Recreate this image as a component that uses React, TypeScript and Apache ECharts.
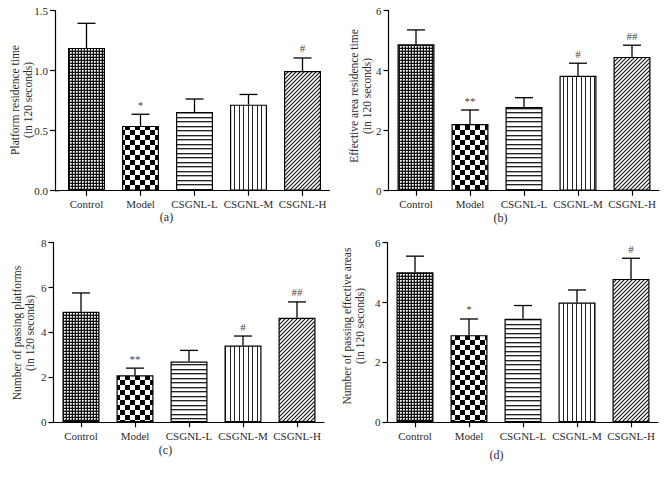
import React, { useEffect, useRef } from "react";
import * as echarts from "echarts";

const categories = ["Control", "Model", "CSGNL-L", "CSGNL-M", "CSGNL-H"];

const platformTimeMean = [1.19, 0.54, 0.656, 0.717, 0.998];
const platformTimeErr = [0.205, 0.097, 0.108, 0.085, 0.108];
const platformTimeMarks = ["", "*", "", "", "#"];

const areaTimeMean = [4.88, 2.22, 2.79, 3.83, 4.46];
const areaTimeErr = [0.48, 0.47, 0.31, 0.42, 0.39];
const areaTimeMarks = ["", "**", "", "#", "##"];

const platformCrossMean = [4.92, 2.09, 2.7, 3.42, 4.65];
const platformCrossErr = [0.84, 0.32, 0.5, 0.42, 0.71];
const platformCrossMarks = ["", "**", "", "#", "##"];

const areaCrossMean = [5.01, 2.91, 3.46, 4.0, 4.79];
const areaCrossErr = [0.54, 0.54, 0.44, 0.42, 0.69];
const areaCrossMarks = ["", "*", "", "", "#"];

const yTitles = [
  "Platform residence time\n(in 120 seconds)",
  "Effective area residence time\n(in 120 seconds)",
  "Number of passing platforms\n(in 120 seconds)",
  "Number of passing effective areas\n(in 120 seconds)",
];
const panelLetters = ["(a)", "(b)", "(c)", "(d)"];

const FONT = "'Liberation Serif', 'DejaVu Serif', serif";
const TEXT = "#2a2a2a";

function tile(w: number, h: number, draw: (ctx: CanvasRenderingContext2D) => void) {
  const c = document.createElement("canvas");
  c.width = w;
  c.height = h;
  const ctx = c.getContext("2d") as CanvasRenderingContext2D;
  ctx.fillStyle = "#fff";
  ctx.fillRect(0, 0, w, h);
  draw(ctx);
  return { image: c, repeat: "repeat", imageWidth: w, imageHeight: h } as any;
}

function makePatterns() {
  const control = tile(3, 3, (ctx) => {
    ctx.fillStyle = "#111";
    ctx.fillRect(0, 0, 3, 3);
    ctx.fillStyle = "#ffffff";
    ctx.fillRect(1, 1, 1, 1);
    ctx.fillStyle = "#cccccc";
    ctx.fillRect(2, 1, 1, 1);
    ctx.fillRect(1, 2, 1, 1);
    ctx.fillStyle = "#777";
    ctx.fillRect(2, 2, 1, 1);
  });
  const model = tile(10, 10, (ctx) => {
    ctx.fillStyle = "#000";
    ctx.fillRect(0, 0, 5, 5);
    ctx.fillRect(5, 5, 5, 5);
  });
  const low = tile(9, 9, (ctx) => {
    ctx.fillStyle = "#222";
    ctx.fillRect(0, 0, 9, 1);
    ctx.fillRect(0, 4, 9, 1);
    ctx.fillStyle = "#b0b0b0";
    ctx.fillRect(0, 1, 9, 1);
    ctx.fillRect(0, 5, 9, 1);
  });
  const mid = tile(9, 9, (ctx) => {
    ctx.fillStyle = "#222";
    ctx.fillRect(0, 0, 1, 9);
    ctx.fillRect(5, 0, 1, 9);
  });
  const high = tile(4, 4, (ctx) => {
    ctx.strokeStyle = "#111";
    ctx.lineWidth = 1.1;
    ctx.beginPath();
    ctx.moveTo(-1, 5);
    ctx.lineTo(5, -1);
    ctx.moveTo(-1, 1);
    ctx.lineTo(1, -1);
    ctx.moveTo(3, 5);
    ctx.lineTo(5, 3);
    ctx.stroke();
  });
  return [control, model, low, mid, high];
}

type Panel = {
  means: number[];
  errs: number[];
  marks: string[];
  max: number;
  interval: number;
  decimals: number;
  left: number;
  top: number;
  height: number;
  axisOffset: number;
  titleX: number;
  titleY: number;
  letterX: number;
  letterY: number;
};

const panels: Panel[] = [
  { means: platformTimeMean, errs: platformTimeErr, marks: platformTimeMarks, max: 1.5, interval: 0.5, decimals: 1,
    left: 59.5, top: 10.7, height: 180, axisOffset: 4.5, titleX: 21, titleY: 100, letterX: 166.5, letterY: 217 },
  { means: areaTimeMean, errs: areaTimeErr, marks: areaTimeMarks, max: 6, interval: 2, decimals: 0,
    left: 389, top: 10.7, height: 180, axisOffset: 0.5, titleX: 360, titleY: 96, letterX: 500.5, letterY: 218 },
  { means: platformCrossMean, errs: platformCrossErr, marks: platformCrossMarks, max: 8, interval: 2, decimals: 0,
    left: 54, top: 242.7, height: 179.5, axisOffset: 0.5, titleX: 23, titleY: 333, letterX: 165.5, letterY: 449.5 },
  { means: areaCrossMean, errs: areaCrossErr, marks: areaCrossMarks, max: 6, interval: 2, decimals: 0,
    left: 388, top: 242.7, height: 179.5, axisOffset: 0.5, titleX: 353, titleY: 326, letterX: 496.5, letterY: 455 },
];

export default function App() {
  const ref = useRef<HTMLDivElement>(null);
  useEffect(() => {
    document.body.style.margin = "0";
    if (!ref.current) return;
    const chart = echarts.init(ref.current, undefined, { renderer: "svg" });
    const patterns = makePatterns();
    const axisLine = { lineStyle: { color: "#000", width: 1.2 } };

    const grids: any[] = [];
    const xAxes: any[] = [];
    const yAxes: any[] = [];
    const series: any[] = [];
    const graphics: any[] = [];

    panels.forEach((p, gi) => {
      grids.push({ left: p.left, top: p.top, width: 270, height: p.height, containLabel: false });
      xAxes.push({
        type: "category",
        gridIndex: gi,
        data: categories,
        axisLine,
        axisTick: { show: true, alignWithLabel: true, interval: 0, length: 5, lineStyle: { color: "#000", width: 1.2 } },
        axisLabel: { interval: 0, hideOverlap: false, fontFamily: FONT, fontSize: 11, color: TEXT, margin: 8 },
        splitLine: { show: false },
      });
      yAxes.push({
        type: "value",
        gridIndex: gi,
        min: 0,
        max: p.max,
        interval: p.interval,
        offset: p.axisOffset,
        axisLine: { show: true, ...axisLine },
        axisTick: { show: true, length: 5, lineStyle: { color: "#000", width: 1.2 } },
        axisLabel: {
          fontFamily: FONT,
          fontSize: 11,
          color: TEXT,
          margin: 7,
          formatter: (v: number) => v.toFixed(p.decimals),
        },
        splitLine: { show: false },
      });
      series.push({
        type: "bar",
        xAxisIndex: gi,
        yAxisIndex: gi,
        barWidth: 37,
        itemStyle: { borderColor: "#000", borderWidth: 1.2 },
        data: p.means.map((v, i) => ({ value: v, itemStyle: { color: patterns[i] } })),
      });
      series.push({
        type: "custom",
        xAxisIndex: gi,
        yAxisIndex: gi,
        z: 3,
        data: p.means.map((m, i) => [i, m, p.errs[i]]),
        renderItem: (params: any, api: any) => {
          const i = api.value(0);
          const m = api.value(1);
          const e = api.value(2);
          const base = api.coord([i, m]);
          const top = api.coord([i, m + e]);
          const half = 9;
          const children: any[] = [
            { type: "line", shape: { x1: base[0], y1: base[1], x2: top[0], y2: top[1] }, style: { stroke: "#000", lineWidth: 1.3 } },
            { type: "line", shape: { x1: top[0] - half, y1: top[1], x2: top[0] + half, y2: top[1] }, style: { stroke: "#000", lineWidth: 1.3 } },
          ];
          const mark = p.marks[params.dataIndex];
          if (mark) {
            children.push({
              type: "text",
              x: top[0],
              y: top[1] - 4,
              style: { text: mark, fontSize: 11, fontFamily: FONT, fill: "#444", align: "center", verticalAlign: "bottom" },
            });
          }
          return { type: "group", children };
        },
      });
      if (p.axisOffset > 1) {
        graphics.push({
          type: "line",
          shape: { x1: p.left - p.axisOffset, y1: p.top + p.height, x2: p.left, y2: p.top + p.height },
          style: { stroke: "#000", lineWidth: 1.2 },
        });
      }
      graphics.push({
        type: "text",
        x: p.titleX,
        y: p.titleY,
        rotation: Math.PI / 2,
        style: {
          text: yTitles[gi],
          fontFamily: FONT,
          fontSize: 11.5,
          lineHeight: 13,
          fill: TEXT,
          align: "center",
          verticalAlign: "middle",
        },
      });
      graphics.push({
        type: "text",
        x: p.letterX,
        y: p.letterY,
        style: { text: panelLetters[gi], fontFamily: FONT, fontSize: 12, fill: TEXT, align: "center", verticalAlign: "middle" },
      });
    });

    chart.setOption({
      animation: false,
      backgroundColor: "#fff",
      grid: grids,
      xAxis: xAxes,
      yAxis: yAxes,
      series,
      graphic: graphics,
    });
    return () => chart.dispose();
  }, []);
  return <div ref={ref} style={{ width: 668, height: 477 }} />;
}
